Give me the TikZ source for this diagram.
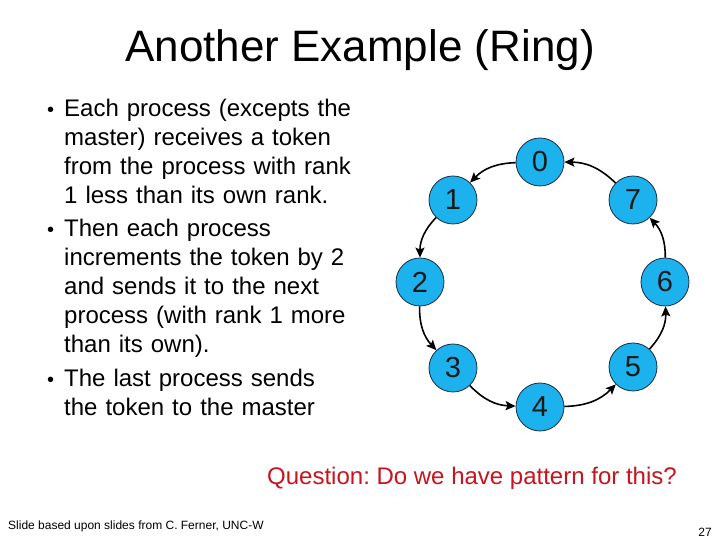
\documentclass[tikz,border=0pt]{standalone}
\usepackage{fontspec}
\setmainfont{Liberation Sans}
\usepackage{xcolor}
\usepackage{tikz}
\usetikzlibrary{arrows.meta,positioning}
\definecolor{RingBlue}{HTML}{1CB2EE}
\definecolor{RingEdge}{HTML}{1A2A40}
\definecolor{QRed}{HTML}{C8141E}
\frenchspacing

\begin{document}
\begin{tikzpicture}[x=1pt,y=1pt,
  proc/.style={circle,draw=RingEdge,line width=0.8pt,fill=RingBlue,minimum size=48pt,inner sep=0pt,font=\fontsize{29}{29}\selectfont,text=black!90},
  para/.style={anchor=base west,inner sep=0pt,text width=300pt,align=left,font=\fontsize{24}{28.8}\selectfont},
  arrow/.style={-{Stealth[length=10pt,width=9pt,inset=2pt]},line width=1.6pt}
]
\fill[white] (0,0) rectangle (720,540);
\useasboundingbox (0,0) rectangle (720,540);
\node[anchor=base,inner sep=0pt,font=\fontsize{44}{44}\selectfont] (title) at (360,478) {Another Example (Ring)};
\node[para] (pt1) at (64,423) {\llap{{\fontsize{20}{20}\selectfont\textbullet}\hspace{10pt}}Each process (excepts the\\master) receives a token\\from the process with rank\\1 less than its own rank.};
\node[para] (pt2) at (64,303) {\llap{{\fontsize{20}{20}\selectfont\textbullet}\hspace{10pt}}Then each process\\increments the token by 2\\and sends it to the next\\process (with rank 1 more\\than its own).};
\node[para] (pt3) at (64,153) {\llap{{\fontsize{20}{20}\selectfont\textbullet}\hspace{10pt}}The last process sends\\the token to the master};
\node[proc] (p0) at (540,378) {0};
\node[proc] (p1) at (453,340) {1};
\node[proc] (p2) at (420,258) {2};
\node[proc] (p3) at (453,172) {3};
\node[proc] (p4) at (540,133) {4};
\node[proc] (p5) at (633,173) {5};
\node[proc] (p6) at (665,258) {6};
\node[proc] (p7) at (633,340) {7};
\draw[arrow] (p0) to[bend right=22] (p1);
\draw[arrow] (p1) to[bend right=22] (p2);
\draw[arrow] (p2) to[bend right=22] (p3);
\draw[arrow] (p3) to[bend right=22] (p4);
\draw[arrow] (p4) to[bend right=22] (p5);
\draw[arrow] (p5) to[bend right=22] (p6);
\draw[arrow] (p6) to[bend right=22] (p7);
\draw[arrow] (p7) to[bend right=22] (p0);
\node[anchor=base west,inner sep=0pt,font=\fontsize{24}{24}\selectfont,text=QRed] (quest) at (267,55) {Question: Do we have pattern for this?};
\node[anchor=base west,inner sep=0pt,font=\fontsize{12}{12}\selectfont] (credit) at (8,10) {Slide based upon slides from C. Ferner, UNC-W};
\node[anchor=base east,inner sep=0pt,font=\fontsize{12}{12}\selectfont] (pnum) at (712,3) {27};
\end{tikzpicture}
\end{document}
